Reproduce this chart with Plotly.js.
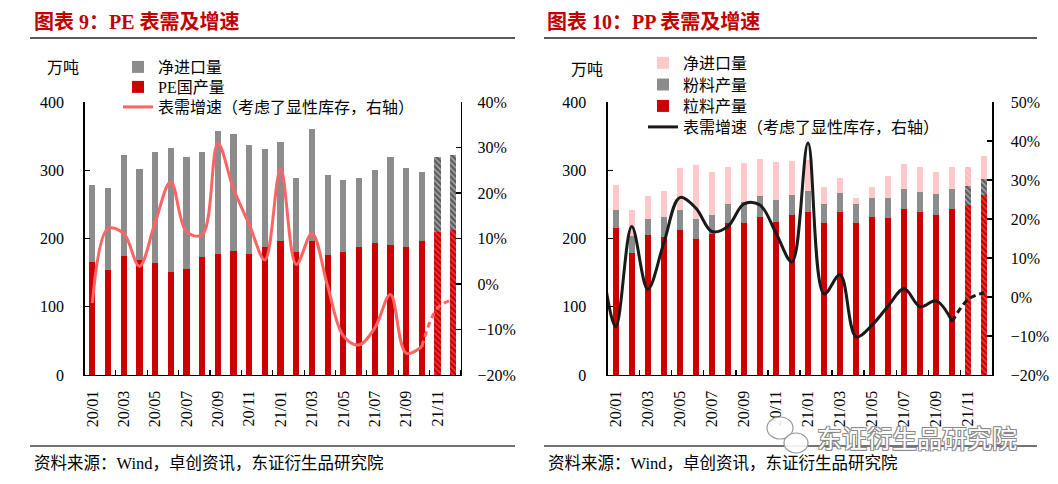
<!DOCTYPE html>
<html><head><meta charset="utf-8">
<script src="https://cdn.plot.ly/plotly-3.0.1.min.js"></script>
<style>html,body{margin:0;padding:0;background:#fff;}#chart{width:1058px;height:484px;}</style>
</head><body><div id="chart"></div>
<script>
// ---------- data ----------
const months = ['20/01','20/02','20/03','20/04','20/05','20/06','20/07','20/08','20/09','20/10','20/11','20/12',
                '21/01','21/02','21/03','21/04','21/05','21/06','21/07','21/08','21/09','21/10','21/11','21/12'];
// PE (万吨)
const peDomestic  = [166,154,175,169,164,151,156,173,178,182,178,188,197,180,197,176,180,187,193,191,187,197,209,213];
const peNetImport = [112,120,147,133,163,182,164,154,179,171,159,143,145,108,164,117,106,101,108,128,116,101,110,109];
// PE apparent demand growth (%), right axis
const peGrowth    = [-4.2,12.2,11.1,3.9,13.5,22.5,11.5,10.8,30.9,20.9,13.1,5.3,25.3,4.3,11.1,-0.5,-11.4,-13.4,-9.7,-2.3,-15.2,-13.8,-5.3,-3.4];
// PP (万吨)
const ppGranular  = [215,179,205,202,213,199,206,222,222,232,224,234,239,223,239,223,232,230,243,239,234,243,249,264];
const ppPowder    = [27,24,23,29,29,30,29,29,31,30,33,30,30,27,27,27,27,29,29,29,31,29,28,23];
const ppNetImport = [36,39,34,38,61,79,63,54,57,54,55,50,46,25,22,10,16,32,37,37,33,33,28,34];
// PP apparent demand growth (%), right axis; previous month (19/12) value enters from the left edge
const ppGrowthPrevMonth = 13;
const ppGrowth    = [-7.6,18.1,2.0,13.8,25.5,22.8,16.8,18.1,23.9,23.6,16.4,9.0,39.5,0.8,5.7,-10.2,-7.2,-2.3,2.1,-2.5,-1.0,-6.3,-0.6,1.1];
const nActual = 22; // months from 21/11 on are estimates (hatched / dashed)

// ---------- helpers ----------
const idx = months.map((_, i) => i);
const tickIdx = idx.filter(i => i % 2 === 0);
const tickTxt = tickIdx.map(i => months[i]);
const pct = a => a.map(v => v == null ? null : v / 100);
const solidPart = a => a.map((v, i) => i <= nActual - 1 ? v : null);
const dashPart  = a => a.map((v, i) => i >= nActual - 1 ? v : null);
const isEst = i => i >= nActual;
const hatch = idx.map(i => isEst(i) ? '\\' : '');
const pinkHatch = idx.map(i => i === nActual ? '\\' : '');

const SERIF = 'Liberation Serif, Noto Sans CJK SC, serif';
const RED = '#CC0000', GRAY = '#8C8C8C', DARKGRAY = '#5E5E5E', PINK = '#FFC9C9', SALMON = '#FF6464', BLACK = '#1A1A1A';
const GROWTH_NAME = '表需增速（考虑了显性库存，右轴）';

function pat(shapes, fg){ return {shape: shapes, fillmode: 'overlay', fgcolor: fg, size: 4, solidity: 0.35}; }
const grayColors = idx.map(i => isEst(i) ? DARKGRAY : GRAY);

const traces = [
  // ----- PE chart -----
  {type:'bar', x: idx, y: peDomestic, name:'PE国产量', xaxis:'x', yaxis:'y',
   marker:{color: RED, pattern: pat(hatch, 'rgba(255,150,150,0.95)')}, legend:'legend2'},
  {type:'bar', x: idx, y: peNetImport, name:'净进口量', xaxis:'x', yaxis:'y',
   marker:{color: grayColors, pattern: pat(hatch, '#9a9a9a')}, legend:'legend'},
  {type:'scatter', mode:'lines', x: idx, y: pct(solidPart(peGrowth)), name: GROWTH_NAME,
   xaxis:'x', yaxis:'y2', line:{color: SALMON, width: 3, shape:'spline'}, legend:'legend3'},
  {type:'scatter', mode:'lines', x: idx, y: pct(dashPart(peGrowth)), showlegend:false,
   xaxis:'x', yaxis:'y2', line:{color: SALMON, width: 3, shape:'spline', dash:'6px,4px'}},
  // ----- PP chart -----
  {type:'bar', x: idx, y: ppGranular, name:'粒料产量', xaxis:'x2', yaxis:'y3',
   marker:{color: RED, pattern: pat(hatch, 'rgba(255,150,150,0.95)')}, legend:'legend6'},
  {type:'bar', x: idx, y: ppPowder, name:'粉料产量', xaxis:'x2', yaxis:'y3',
   marker:{color: grayColors, pattern: pat(hatch, '#9a9a9a')}, legend:'legend5'},
  {type:'bar', x: idx, y: ppNetImport, name:'净进口量', xaxis:'x2', yaxis:'y3',
   marker:{color: PINK, pattern: pat(pinkHatch, '#ff9a9a')}, legend:'legend4'},
  {type:'scatter', mode:'lines', x: [-1].concat(idx), y: pct([ppGrowthPrevMonth].concat(solidPart(ppGrowth))),
   name: GROWTH_NAME, xaxis:'x2', yaxis:'y4',
   line:{color: BLACK, width: 3, shape:'spline'}, legend:'legend7'},
  {type:'scatter', mode:'lines', x: idx, y: pct(dashPart(ppGrowth)), showlegend:false,
   xaxis:'x2', yaxis:'y4', line:{color: BLACK, width: 3, shape:'spline', dash:'6px,4px'}}
];

const W = 1058, H = 484;
const px = v => v / W, py = v => (H - v) / H;
const yDom = [py(375), py(102)];

function xAx(dom, anchor){
  return {domain: dom, anchor: anchor, range:[-0.5, 23.5], tickmode:'array', tickvals: tickIdx, ticktext: tickTxt,
    tickangle: -90, ticks:'', showline:true, linecolor:'#000', linewidth:1.3, showgrid:false, zeroline:false,
    tickfont:{family: SERIF, size: 16, color:'#000'}, ticklabelstandoff: 8,
    minor:{tickmode:'linear', tick0: -0.5, dtick: 2, ticks:'inside', ticklen: 5, tickcolor:'#000', tickwidth:1.2, showgrid:false}};
}
function yAx(anchor, range, dtick, opts){
  return Object.assign({anchor: anchor, domain: yDom, range: range, dtick: dtick, ticks:'inside', ticklen:5,
    tickcolor:'#000', tickwidth:1.2, showline:true, linecolor:'#000', linewidth:1.3, showgrid:false, zeroline:false,
    tickfont:{family: SERIF, size: 16, color:'#000'}}, opts || {});
}
function leg(xText, yCenter){
  return {x: px(xText - 40), y: py(yCenter), xanchor:'left', yanchor:'middle', bgcolor:'rgba(0,0,0,0)',
          font:{family: SERIF, size: 16, color:'#000'}, itemwidth: 30};
}
function bubble(cx, cy, rx, ry){
  return {type:'circle', xref:'paper', yref:'paper', x0: px(cx - rx), x1: px(cx + rx), y0: py(cy + ry), y1: py(cy - ry),
          fillcolor:'rgba(255,255,255,0.9)', line:{color:'#9a9a9a', width:1.2}};
}

const layout = {
  width: W, height: H, autosize:false, margin:{l:0,r:0,t:0,b:0},
  paper_bgcolor:'#fff', plot_bgcolor:'rgba(0,0,0,0)',
  barmode:'stack', bargap: 0.6,
  xaxis: xAx([px(84.5), px(461)], 'y'),
  yaxis: yAx('x', [0, 400], 100, {ticklabelstandoff: 16}),
  yaxis2: yAx('x', [-0.2, 0.4], 0.1, {overlaying:'y', side:'right', tickformat:'.0%', ticklabelstandoff: 12}),
  xaxis2: xAx([px(607.7), px(992.3)], 'y3'),
  yaxis3: yAx('x2', [0, 400], 100, {ticklabelstandoff: 17}),
  yaxis4: yAx('x2', [-0.2, 0.5], 0.1, {overlaying:'y3', side:'right', tickformat:'.0%', ticklabelstandoff: 14}),
  legend:  leg(158, 67),
  legend2: leg(158, 87),
  legend3: leg(158, 107),
  legend4: leg(683, 63),
  legend5: leg(683, 84.5),
  legend6: leg(683, 106),
  legend7: leg(683, 127),
  shapes: [
    {type:'line', xref:'paper', yref:'paper', x0: px(30), x1: px(515), y0: py(38), y1: py(38), line:{color:'#222', width:1.3}},
    {type:'line', xref:'paper', yref:'paper', x0: px(544), x1: px(1037), y0: py(38), y1: py(38), line:{color:'#222', width:1.3}},
    {type:'line', xref:'paper', yref:'paper', x0: px(30), x1: px(515), y0: py(446), y1: py(446), line:{color:'#444', width:1.3}},
    {type:'line', xref:'paper', yref:'paper', x0: px(544), x1: px(1037), y0: py(446), y1: py(446), line:{color:'#444', width:1.3}},
    bubble(780, 428, 13, 11),
    bubble(796, 443, 12, 10)
  ],
  annotations: [
    {xref:'paper', yref:'paper', x: px(32), y: py(22), xanchor:'left', yanchor:'middle', showarrow:false,
     text:'<b>图表 9：PE 表需及增速</b>', font:{family: SERIF, size: 20, color:'#C00000'}},
    {xref:'paper', yref:'paper', x: px(545), y: py(22), xanchor:'left', yanchor:'middle', showarrow:false,
     text:'<b>图表 10：PP 表需及增速</b>', font:{family: SERIF, size: 20, color:'#C00000'}},
    {xref:'paper', yref:'paper', x: px(63), y: py(68), xanchor:'center', yanchor:'middle', showarrow:false,
     text:'万吨', font:{family: SERIF, size: 16, color:'#000'}},
    {xref:'paper', yref:'paper', x: px(587), y: py(70), xanchor:'center', yanchor:'middle', showarrow:false,
     text:'万吨', font:{family: SERIF, size: 16, color:'#000'}},
    {xref:'paper', yref:'paper', x: px(32), y: py(463), xanchor:'left', yanchor:'middle', showarrow:false,
     text:'资料来源：Wind，卓创资讯，东证衍生品研究院', font:{family: SERIF, size: 16.5, color:'#000'}},
    {xref:'paper', yref:'paper', x: px(546), y: py(463), xanchor:'left', yanchor:'middle', showarrow:false,
     text:'资料来源：Wind，卓创资讯，东证衍生品研究院', font:{family: SERIF, size: 16.5, color:'#000'}},
    {xref:'paper', yref:'paper', x: px(917), y: py(437), xanchor:'center', yanchor:'middle', showarrow:false,
     text:'东证衍生品研究院', font:{family:'Noto Sans CJK SC', size: 25, color:'#ffffff',
       shadow:'1px 1px 0 #888, -1px -1px 0 #888, 1px -1px 0 #888, -1px 1px 0 #888'}}
  ]
};

Plotly.newPlot('chart', traces, layout, {staticPlot:true, displayModeBar:false});
</script>
</body></html>
